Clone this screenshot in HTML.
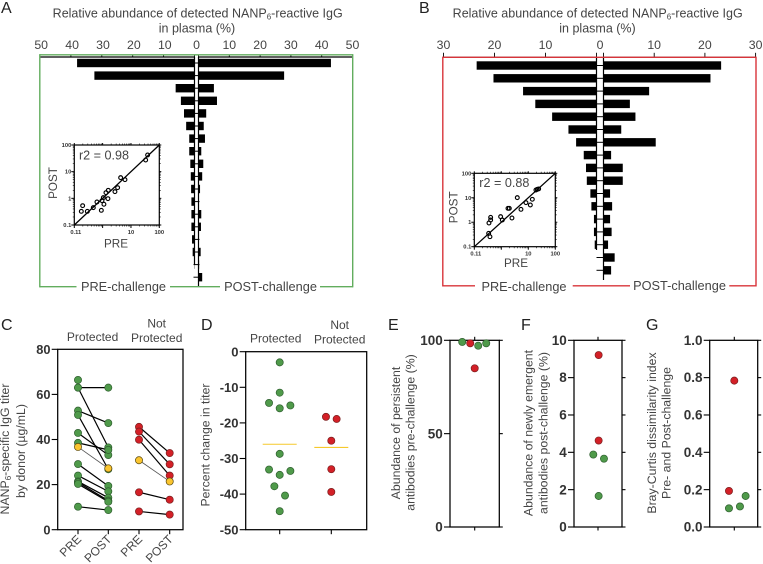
<!DOCTYPE html>
<html><head><meta charset="utf-8"><title>NANP6-reactive IgG figure</title>
<style>
html,body{margin:0;padding:0;background:#fff;width:763px;height:564px;overflow:hidden}
svg{display:block}
text{font-family:"Liberation Sans",sans-serif;fill:#444}
.t{font-size:12.5px}
.b{font-weight:bold;fill:#333}
.let{font-size:16px;fill:#222}
.sub{font-size:8px}
</style></head>
<body>
<svg id="fig" xmlns="http://www.w3.org/2000/svg" width="763" height="564" viewBox="0 0 763 564">
<text class="let" x="1" y="13">A</text>
<text class="let" x="419" y="13">B</text>
<text class="let" x="1" y="330">C</text>
<text class="let" x="201" y="330">D</text>
<text class="let" x="388" y="330">E</text>
<text class="let" x="521" y="330">F</text>
<text class="let" x="646" y="330">G</text>

<text class="t" x="197.7" y="17.5" text-anchor="middle">Relative abundance of detected NANP<tspan class="sub" dy="2">6</tspan><tspan dy="-2">-reactive IgG</tspan></text>
<text class="t" x="197" y="32.5" text-anchor="middle">in plasma (%)</text>
<text class="t" x="597.7" y="17.5" text-anchor="middle">Relative abundance of detected NANP<tspan class="sub" dy="2">6</tspan><tspan dy="-2">-reactive IgG</tspan></text>
<text class="t" x="597.5" y="32.5" text-anchor="middle">in plasma (%)</text>

<text class="t" x="123.5" y="291" text-anchor="middle" style="font-size:12.75px">PRE-challenge</text>
<text class="t" x="270.5" y="291" text-anchor="middle" style="font-size:12.75px">POST-challenge</text>
<text class="t" x="524" y="291" text-anchor="middle" style="font-size:12.75px">PRE-challenge</text>
<text class="t" x="679.5" y="290" text-anchor="middle" style="font-size:12.75px">POST-challenge</text>

<text class="t" x="104" y="155" transform="translate(0,4.5)" text-anchor="middle" style="font-size:12.6px">r2 = 0.98</text>
<text class="t" x="504.3" y="182.3" transform="translate(0,4.5)" text-anchor="middle" style="font-size:12.6px">r2 = 0.88</text>
<text class="t" x="116" y="247.5" text-anchor="middle" style="font-size:11.7px">PRE</text>
<text class="t" x="516" y="267" text-anchor="middle" style="font-size:11.7px">PRE</text>
<text class="t" transform="translate(56.8,183) rotate(-90)" text-anchor="middle" style="font-size:11.7px">POST</text>
<text class="t" transform="translate(457.4,207.3) rotate(-90)" text-anchor="middle" style="font-size:11.7px">POST</text>

<text class="t" x="92.6" y="341" text-anchor="middle" style="font-size:12px">Protected</text>
<text class="t" x="156.7" y="327.5" text-anchor="middle" style="font-size:12px">Not</text>
<text class="t" x="156.7" y="342" text-anchor="middle" style="font-size:12px">Protected</text>
<text class="t" x="275.7" y="342.3" text-anchor="middle" style="font-size:12px">Protected</text>
<text class="t" x="339.7" y="329" text-anchor="middle" style="font-size:12px">Not</text>
<text class="t" x="339.7" y="343.3" text-anchor="middle" style="font-size:12px">Protected</text>

<text class="t" transform="translate(9,449) rotate(-90)" text-anchor="middle" style="font-size:12.3px">NANP<tspan class="sub" dy="2">6</tspan><tspan dy="-2">-specific IgG titer</tspan></text>
<text class="t" transform="translate(25,451) rotate(-90)" text-anchor="middle" style="font-size:12.3px">by donor (µg/mL)</text>
<text class="t" transform="translate(209.5,445) rotate(-90)" text-anchor="middle" style="font-size:12.3px">Percent change in titer</text>
<text class="t" transform="translate(400,433) rotate(-90)" text-anchor="middle" style="font-size:12.3px">Abundance of persistent</text>
<text class="t" transform="translate(414.5,432.5) rotate(-90)" text-anchor="middle" style="font-size:12.3px">antibodies pre-challenge (%)</text>
<text class="t" transform="translate(532.5,433) rotate(-90)" text-anchor="middle" style="font-size:12.3px">Abundance of newly emergent</text>
<text class="t" transform="translate(547.5,433) rotate(-90)" text-anchor="middle" style="font-size:12.3px">antibodies post-challenge (%)</text>
<text class="t" transform="translate(656,433) rotate(-90)" text-anchor="middle" style="font-size:12.3px">Bray-Curtis dissimilarity index</text>
<text class="t" transform="translate(670.5,433) rotate(-90)" text-anchor="middle" style="font-size:12.3px">Pre- and Post-challenge</text>
</svg>
<script>
// ---------- Panel A data ----------
const aPreBars = [38, 32.4, 6.1, 4.4, 3.4, 2.7, 1.7, 1.7, 1.35, 1.2, 1.1, 1.0, 1.0, 1.0, 0.8, 0.6, 0.1, 0];
const aPostBars = [43, 27.8, 5, 6, 2.5, 1.7, 2.1, 0.9, 1.55, 1.2, 0.5, 0, 0.9, 0.8, 0.1, 0.7, 0.2, 1.2];
const aTicks = [10, 20, 30, 40, 50];
const aInsetPre = [0.197, 0.177, 0.288, 0.469, 0.63, 0.9, 0.95, 1.11, 1.06, 1.31, 1.58, 1.54, 2.72, 3.38, 4.32, 6.14, 33, 38.7];
const aInsetPost = [0.53, 0.326, 0.326, 0.447, 0.73, 0.355, 0.82, 0.6, 1.06, 1.63, 2.0, 0.97, 1.78, 2.51, 5.96, 5.01, 27.4, 42.2];
// ---------- Panel B data ----------
const bPreBars = [23.5, 20.2, 14.4, 12, 8.7, 5.5, 4, 2.5, 2.06, 1.9, 1.2, 1.0, 0.5, 0.5, 0.35, 0, 0];
const bPostBars = [23.2, 21.1, 9.0, 5.2, 6.3, 3.5, 10.3, 1.5, 3.8, 3.8, 1.3, 1.7, 1.3, 1.6, 0.9, 2.2, 1.5];
const bTicks = [10, 20, 30];
const bInsetPre = [0.349, 0.403, 0.403, 0.34, 0.38, 0.944, 1.09, 2.48, 1.77, 1.98, 3.91, 5.35, 8.2, 11.9, 14.1, 19.2, 21.5, 24.2];
const bInsetPost = [0.93, 1.23, 1.58, 0.352, 0.256, 1.69, 1.23, 1.49, 3.7, 3.7, 10.1, 3.37, 6.3, 5.07, 8.65, 20.8, 22.2, 23];
const insetTicks = [0.1, 1, 10, 100];
// ---------- Panel C data ----------
const cCategories = ['PRE', 'POST', 'PRE', 'POST'];
const cTicks = [0, 20, 40, 60, 80];
const cProtectedPre = [66.4, 63, 63, 52.8, 50.9, 42.9, 38.5, 29.1, 24, 21.4, 21, 20.3, 10.2, 36.7];
const cProtectedPost = [null, 63, 36.5, 47.3, 26.8, 33.1, 35.4, 19.4, 17, 14.2, 12.9, 12.4, 8.7, 27.2];
const cProtectedKind = ['p', 'p', 'p', 'p', 'p', 'p', 'p', 'p', 'p', 'p', 'p', 'p', 'p', 'y'];
const cNotPre = [45.6, 43.5, 39.9, 16.6, 8.1, 30.8];
const cNotPost = [34, 29, 24, 13.3, 6.7, 21.4];
const cNotKind = ['n', 'n', 'n', 'n', 'n', 'y'];
// ---------- Panel D data ----------
const dTicks = [0, -10, -20, -30, -40, -50];
const dProtected = [-3, -11.5, -14.4, -15.9, -15.1, -28.7, -33.1, -34.6, -33.5, -37.8, -40.4, -44.8];
const dProtectedSlot = [0, 0, -1, 0, 1, 0, -1, 0, 1, -0.5, 0.5, 0];
const dNot = [-18.3, -18.9, -25, -33, -39.4];
const dNotSlot = [-0.5, 0.5, 0, 0, 0];
const dMeans = [-26, -26.9];
// ---------- Panels E, F, G data ----------
const eTicks = [0, 50, 100];
const eValues = [99.1, 98.4, 97.1, 98.4, 85];
const eGroups = ['g', 'r', 'g', 'g', 'r'];
const eSlot = [-1.17, -0.42, 0.33, 1.08, 0];
const fTicks = [0, 2, 4, 6, 8, 10];
const fValues = [9.21, 4.63, 3.88, 3.66, 1.66];
const fGroups = ['r', 'r', 'g', 'g', 'g'];
const fSlot = [0.06, 0.06, -0.44, 0.56, 0.06];
const gTicks = [0, 0.2, 0.4, 0.6, 0.8, 1];
const gValues = [0.784, 0.193, 0.166, 0.11, 0.1];
const gGroups = ['r', 'r', 'g', 'g', 'g'];
const gSlot = [0, -0.5, 1.06, 0.53, -0.5];

const NS = 'http://www.w3.org/2000/svg';
const fig = document.getElementById('fig');
function add(tag, attrs, name) {
  const el = document.createElementNS(NS, tag);
  for (const k in attrs) el.setAttribute(k, attrs[k]);
  
  
  fig.appendChild(el);
  return el;
}
function line(x1, y1, x2, y2, stroke, w, name) {
  return add('line', {x1: x1, y1: y1, x2: x2, y2: y2, stroke: stroke, 'stroke-width': w}, name);
}
function label(x, y, s, size, anchor, cls, name) {
  const el = add('text', {x: x, y: y, 'text-anchor': anchor, 'font-size': size, class: cls || ''}, name);
  el.textContent = s;
  return el;
}
const dotFill = {g: '#4f9a4a', r: '#d32027', y: '#fbc52f', p: '#4f9a4a', n: '#d32027'};
const dotEdge = {g: '#2f5f2f', r: '#7a1f1f', y: '#5a4a10', p: '#2f5f2f', n: '#7a1f1f'};
function dot(x, y, kind, r, name) {
  return add('circle', {cx: x, cy: y, r: r, fill: dotFill[kind], stroke: dotEdge[kind], 'stroke-width': 0.7}, name);
}

// Butterfly bar chart
function butterfly(c) {
  const xL = v => c.zeroL - v * c.scaleL;
  const xR = v => c.zeroR + v * c.scaleR;
  const yB = i => c.y0 + i * c.step;
  line(c.zeroL, c.axisY, c.zeroL, c.leftEnd, '#000', 1.2, c.id + '-pre-zero-line');
  line(c.zeroR, c.axisY, c.zeroR, c.rightEnd, '#000', 1.2, c.id + '-post-zero-line');
  c.pre.forEach((v, i) => {
    const y = yB(i);
    if (v > 0) add('rect', {x: xL(v), y: y - c.h / 2, width: v * c.scaleL, height: c.h, fill: '#000'}, c.id + '-pre-bar-' + (i + 1));
    const p = c.post[i];
    if (p > 0) add('rect', {x: c.zeroR, y: y - c.h / 2, width: p * c.scaleR, height: c.h, fill: '#000'}, c.id + '-post-bar-' + (i + 1));
    line(c.zeroL - c.tickOut, y, c.zeroR + 1, y, '#000', 1, c.id + '-category-tick-' + (i + 1));
  });
  line(xL(c.ticks[c.ticks.length - 1]), c.axisY, c.zeroL, c.axisY, '#000', 1.2, c.id + '-top-axis-left');
  line(c.zeroR, c.axisY, xR(c.ticks[c.ticks.length - 1]), c.axisY, '#000', 1.2, c.id + '-top-axis-right');
  c.ticks.forEach(v => {
    line(xL(v), c.axisY - c.tickLen, xL(v), c.axisY + c.tickIn, '#000', 0.9, c.id + '-tick-left-' + v);
    line(xR(v), c.axisY - c.tickLen, xR(v), c.axisY + c.tickIn, '#000', 0.9, c.id + '-tick-right-' + v);
    label(xL(v) + c.labelShift, 49, String(v), 12.3, 'middle', '', c.id + '-tick-label-left-' + v);
    label(xR(v), 49, String(v), 12.3, 'middle', '', c.id + '-tick-label-right-' + v);
  });
  line(c.zeroL, c.axisY - c.tickLen, c.zeroL, c.axisY, '#000', 0.9, c.id + '-tick-left-0');
  line(c.zeroR, c.axisY - c.tickLen, c.zeroR, c.axisY, '#000', 0.9, c.id + '-tick-right-0');
  label((c.zeroL + c.zeroR) / 2, 49, '0', 12.3, 'middle', '', c.id + '-tick-label-zero');
  const L = c.frame.left, R = c.frame.right, T = c.frame.top, B = c.frame.bottom;
  const s = c.frame.color;
  const w = c.frame.width;
  line(L, T, R, T, s, w, c.id + '-frame-top');
  line(L, T - w / 2, L, B + w / 2, s, w, c.id + '-frame-left');
  line(R, T - w / 2, R, B + w / 2, s, w, c.id + '-frame-right');
  c.frame.gaps.forEach((g, i) => line(g[0], B, g[1], B, s, w, c.id + '-frame-bottom-' + (i + 1)));
}
butterfly({id: 'panel-a', pre: aPreBars, post: aPostBars, ticks: aTicks, zeroL: 194.5, zeroR: 198.5, scaleL: 3.09, scaleR: 3.08,
  y0: 63, step: 12.6, h: 8.4, axisY: 57, tickLen: 2.5, tickIn: 0.5, leftEnd: 265, rightEnd: 286, tickOut: 1, labelShift: 1.2,
  frame: {left: 39.8, right: 352.7, top: 54.8, bottom: 286.7, color: '#62ad5e', width: 1.4, gaps: [[39.8, 76.5], [170, 220], [320, 352.7]]}});
butterfly({id: 'panel-b', pre: bPreBars, post: bPostBars, ticks: bTicks, zeroL: 596.5, zeroR: 603.5, scaleL: 5.1, scaleR: 5.07,
  y0: 65.5, step: 12.8, h: 8.4, axisY: 57.3, tickLen: 4.5, tickIn: 0.5, leftEnd: 250, rightEnd: 280, tickOut: 0, labelShift: 0,
  frame: {left: 442.8, right: 756, top: 57.3, bottom: 285.8, color: '#d8343a', width: 1.4, gaps: [[442.8, 475], [572.7, 630], [729.3, 756]]}});

// Log-log inset scatter
function inset(c) {
  const x = v => c.left + (Math.log10(v) + 1) * (c.right - c.left) / 3;
  const y = v => c.bottom - (Math.log10(v) + 1) * (c.bottom - c.top) / 3;
  add('rect', {x: c.left, y: c.top, width: c.right - c.left, height: c.bottom - c.top, fill: 'none', stroke: '#000', 'stroke-width': 1.2}, c.id + '-inset-frame');
  insetTicks.forEach(t => {
    line(c.left - 3, y(t), c.left, y(t), '#000', 1, c.id + '-inset-left-tick');
    line(c.right, y(t), c.right + 2, y(t), '#000', 1, c.id + '-inset-right-tick');
    line(x(t), c.bottom, x(t), c.bottom + 3, '#000', 1, c.id + '-inset-bottom-tick');
    line(x(t), c.top - 2, x(t), c.top, '#000', 1, c.id + '-inset-top-tick');
    label(c.left - 3, y(t) + 2, String(t), 5.8, 'end', 'b', c.id + '-inset-y-tick-label');
    const txt = t === 0.1 ? '0.11' : String(t);
    if (t !== 1) label(x(t) + (t === 0.1 ? 1.5 : 0), c.bottom + 9, txt, 5.8, 'middle', 'b', c.id + '-inset-x-tick-label');
    if (t < 100) {
      for (let m = 2; m < 10; m++) {
        line(c.left - 1.5, y(t * m), c.left, y(t * m), '#000', 0.6, c.id + '-inset-minor-tick');
        line(c.right, y(t * m), c.right + 1.5, y(t * m), '#000', 0.6, c.id + '-inset-minor-tick');
        line(x(t * m), c.bottom, x(t * m), c.bottom + 1.5, '#000', 0.6, c.id + '-inset-minor-tick');
        line(x(t * m), c.top - 1.5, x(t * m), c.top, '#000', 0.6, c.id + '-inset-minor-tick');
      }
    }
  });
  line(x(0.1), y(0.1), x(100), y(100), '#000', 1.3, c.id + '-inset-identity-line');
  c.pre.forEach((v, i) => {
    add('circle', {cx: x(v), cy: y(c.post[i]), r: 1.9, fill: 'none', stroke: '#000', 'stroke-width': 1.15}, c.id + '-inset-point');
  });
}
inset({id: 'panel-a', left: 74.3, right: 159.3, top: 145, bottom: 225, pre: aInsetPre, post: aInsetPost});
inset({id: 'panel-b', left: 474.3, right: 555.3, top: 173.3, bottom: 246.7, pre: bInsetPre, post: bInsetPost});

// Frame with y axis
function frame(c, name) {
  add('rect', {x: c.left, y: c.top, width: c.right - c.left, height: c.bottom - c.top, fill: 'none', stroke: '#000', 'stroke-width': 1.25}, name + '-frame');
  c.ticks.forEach(t => {
    const yy = c.y(t);
    line(c.left - 6, yy, c.left, yy, '#000', 1.1, name + '-y-tick');
    if (c.rightTicks) line(c.right, yy, c.right + 3.5, yy, '#000', 1.1, name + '-right-tick');
    const s = c.fmt ? c.fmt(t) : String(t);
    label(c.left - 7.2, yy + 4.6, s, c.size, 'end', 'b', name + '-y-tick-label');
  });
}

// Panel C
const cY = v => 529.7 - v * 2.255;
const cX = [78, 108.3, 139, 169.7];
frame({left: 57.7, right: 183, top: 349.3, bottom: 529.7, ticks: cTicks, y: cY, size: 12.8}, 'panel-c');
cCategories.forEach((cat, i) => {
  line(cX[i], 529.7, cX[i], 534.2, '#000', 1.1, 'panel-c-x-tick');
  const el = label(0, 0, cat, 12, 'end', '', 'panel-c-x-tick-label');
  el.setAttribute('transform', 'translate(' + (cX[i] + 4) + ',540) rotate(-45)');
});
function cPairs(pre, post, kinds, xa, xb, group) {
  pre.forEach((v, i) => {
    if (post[i] === null) return;
    const isY = kinds[i] === 'y';
    line(xa, cY(v), xb, cY(post[i]), isY ? '#555' : '#000', isY ? 0.8 : 1.2, group + '-pair-line');
  });
  pre.forEach((v, i) => {
    if (post[i] !== null) dot(xb, cY(post[i]), kinds[i], 3.6, group + '-post-point');
    dot(xa, cY(v), kinds[i], 3.6, group + '-pre-point');
  });
}
cPairs(cProtectedPre, cProtectedPost, cProtectedKind, cX[0], cX[1], 'panel-c-protected');
cPairs(cNotPre, cNotPost, cNotKind, cX[2], cX[3], 'panel-c-not-protected');

// Panel D
const dY = v => 351.7 - v * 3.56;
const dX = [279.7, 331.3];
frame({left: 245.7, right: 366.7, top: 351.7, bottom: 529.7, ticks: dTicks, y: dY, size: 13}, 'panel-d');
dX.forEach(x => line(x, 529.7, x, 534.2, '#000', 1.1, 'panel-d-x-tick'));
dProtected.forEach((v, i) => dot(dX[0] + dProtectedSlot[i] * 10.67, dY(v), 'g', 3.6, 'panel-d-protected-point'));
dNot.forEach((v, i) => dot(dX[1] + dNotSlot[i] * 10.67, dY(v), 'r', 3.6, 'panel-d-not-protected-point'));
dMeans.forEach((v, i) => line(dX[i] - 17, dY(v), dX[i] + 17, dY(v), '#f6c92c', 1.1, 'panel-d-mean-line'));

// Panels E, F, G
function strip(c, name) {
  const y = v => c.bottom - (v / c.max) * (c.bottom - c.top);
  frame({left: c.left, right: c.right, top: c.top, bottom: c.bottom, ticks: c.ticks, y: y, size: 13.5, rightTicks: true, fmt: c.fmt}, name);
  line(c.center, c.top - 3.5, c.center, c.top, '#000', 1.1, name + '-top-tick');
  line(c.center, c.bottom, c.center, c.bottom + 3.5, '#000', 1.1, name + '-bottom-tick');
  c.values.forEach((v, i) => dot(c.center + c.slots[i] * 10.67, y(v), c.groups[i], 3.6, name + '-point'));
}
strip({left: 450, right: 499.3, top: 340.3, bottom: 527, center: 474.7, max: 100, ticks: eTicks, values: eValues, groups: eGroups, slots: eSlot}, 'panel-e');
strip({left: 574, right: 622, top: 340.3, bottom: 527, center: 598, max: 10, ticks: fTicks, values: fValues, groups: fGroups, slots: fSlot}, 'panel-f');
strip({left: 709.7, right: 757.7, top: 340.3, bottom: 527, center: 734.3, max: 1, ticks: gTicks, values: gValues, groups: gGroups, slots: gSlot, fmt: v => v.toFixed(1)}, 'panel-g');
</script>
</body></html>
